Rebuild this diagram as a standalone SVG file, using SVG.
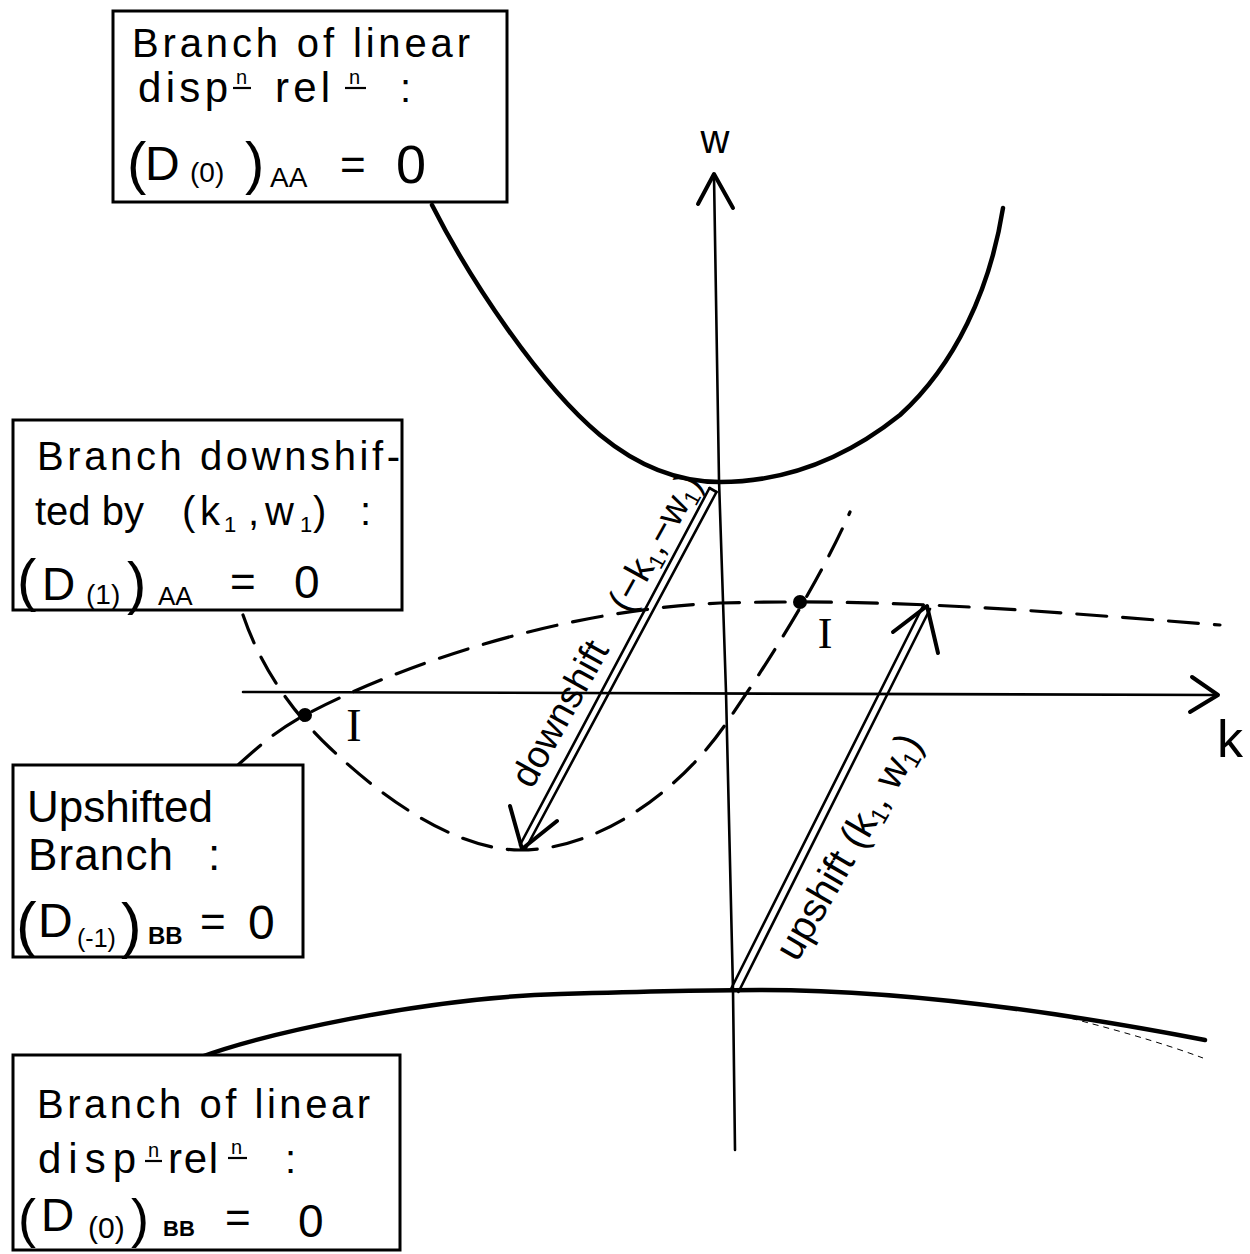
<svg xmlns="http://www.w3.org/2000/svg" width="1250" height="1254" viewBox="0 0 1250 1254">
<style>
.t{font-family:"Liberation Sans",Arial,sans-serif;fill:#000}
.box{fill:#fff;stroke:#000;stroke-width:3}
.solid{fill:none;stroke:#000;stroke-width:4.5;stroke-linecap:round}
.dash{fill:none;stroke:#000;stroke-width:3.2;stroke-dasharray:30 16;stroke-linecap:round}
.axis{fill:none;stroke:#000;stroke-width:2.6;stroke-linecap:round;stroke-linejoin:round}
.dbl{fill:none;stroke:#000;stroke-width:2.6;stroke-linecap:round}
.head{fill:none;stroke:#000;stroke-width:4;stroke-linecap:round;stroke-linejoin:round}
.ul{stroke:#000;stroke-width:2.2}
</style>
<rect width="1250" height="1254" fill="#fff"/>

<g id="connectors">
  <!-- axes -->
  <polyline class="axis" points="714,176 719,480 726,692 733,990 735,1150"/>
  <path class="head" d="M698,204 L714,174 L733,208"/>
  <line class="axis" x1="243" y1="692" x2="1217" y2="695"/>
  <path class="head" d="M1192,677 L1218,695 L1190,712"/>
  <!-- linear dispersion branches -->
  <path class="solid" d="M432,205 C470,280 540,385 600,435 C640,468 680,482 720,482 C790,482 850,455 900,415 C955,365 990,290 1003,208"/>
  <path class="solid" stroke-width="4" d="M198,1058 C260,1035 420,998 560,994 C660,991 700,990 760,990 C900,990 1060,1012 1205,1040"/>
  <path fill="none" stroke="#000" stroke-width="1" stroke-dasharray="6 5" d="M1050,1013 C1110,1028 1160,1042 1203,1058"/>
  <!-- shifted branches -->
  <path class="dash" d="M243,615 C260,665 290,710 330,748 C390,805 460,850 520,850 C600,850 680,790 725,725 C770,660 820,580 850,512"/>
  <path class="dash" d="M238,765 C260,745 280,728 305,715 C400,665 560,610 720,603 C900,598 1050,612 1220,625"/>
  <!-- intersection points -->
  <circle cx="305" cy="715" r="7"/>
  <circle cx="800" cy="602" r="7"/>
  <!-- downshift double arrow -->
  <line class="dbl" x1="709.5" y1="488" x2="520" y2="845"/>
  <line class="dbl" x1="716.5" y1="492" x2="526" y2="848"/>
  <line class="dbl" x1="709.5" y1="488" x2="716.5" y2="492"/>
  <path class="head" d="M510,806 L522,849 L557,821"/>
  <!-- upshift double arrow -->
  <line class="dbl" x1="731.5" y1="988" x2="923.5" y2="605"/>
  <line class="dbl" x1="738.5" y1="992" x2="930" y2="609"/>
  <path class="head" d="M893,632 L927,606 L938,653"/>
  <!-- labels -->
  <text class="t" x="715" y="153" font-size="40" text-anchor="middle">w</text>
  <text class="t" x="1230" y="757" font-size="52" text-anchor="middle">k</text>
  <text x="354" y="741" font-size="46" text-anchor="middle" style="font-family:'Liberation Serif',serif">I</text>
  <text x="825" y="648" font-size="44" text-anchor="middle" style="font-family:'Liberation Serif',serif">I</text>
  <text class="t" font-size="38" transform="translate(532,790) rotate(-61)">downshift<tspan dx="40">(−k</tspan><tspan font-size="22" dy="6">1</tspan><tspan dy="-6">,−w</tspan><tspan font-size="22" dy="6">1</tspan><tspan dy="-6">)</tspan></text>
  <text class="t" font-size="40" transform="translate(797,963) rotate(-60)">upshift (k<tspan font-size="24" dy="6">1</tspan><tspan dy="-6">, w</tspan><tspan font-size="24" dy="6">1</tspan><tspan dy="-6">)</tspan></text>
</g>

<g id="box-AA0">
  <rect class="box" x="113" y="11" width="394" height="191"/>
  <text class="t" x="132" y="57" font-size="40" textLength="338" lengthAdjust="spacing">Branch of linear</text>
  <text class="t" x="138" y="102" font-size="42" textLength="90" lengthAdjust="spacing">disp</text>
  <text class="t" x="236" y="84" font-size="20">n</text>
  <line class="ul" x1="233" y1="88" x2="251" y2="88"/>
  <text class="t" x="275" y="102" font-size="42" textLength="55" lengthAdjust="spacing">rel</text>
  <text class="t" x="349" y="84" font-size="20">n</text>
  <line class="ul" x1="345" y1="88" x2="366" y2="88"/>
  <text class="t" x="400" y="102" font-size="40">:</text>
  <text class="t" x="127" y="183" font-size="58">(</text>
  <text class="t" x="145" y="180" font-size="48">D</text>
  <text class="t" x="190" y="182" font-size="28">(0)</text>
  <text class="t" x="245" y="183" font-size="58">)</text>
  <text class="t" x="270" y="187" font-size="28">AA</text>
  <text class="t" x="340" y="180" font-size="44">=</text>
  <text class="t" x="396" y="183" font-size="54">0</text>
</g>

<g id="box-AA1">
  <rect class="box" x="13" y="420" width="389" height="190"/>
  <text class="t" x="37" y="470" font-size="40" textLength="363" lengthAdjust="spacing">Branch downshif-</text>
  <text class="t" x="35" y="525" font-size="40">ted by</text>
  <text class="t" x="182" y="525" font-size="40">(</text>
  <text class="t" x="200" y="525" font-size="40">k</text>
  <text class="t" x="224" y="532" font-size="22">1</text>
  <text class="t" x="248" y="525" font-size="40">,</text>
  <text class="t" x="265" y="525" font-size="40">w</text>
  <text class="t" x="300" y="532" font-size="22">1</text>
  <text class="t" x="313" y="525" font-size="40">)</text>
  <text class="t" x="360" y="525" font-size="40">:</text>
  <text class="t" x="17" y="600" font-size="58">(</text>
  <text class="t" x="42" y="600" font-size="46">D</text>
  <text class="t" x="86" y="604" font-size="28">(1)</text>
  <text class="t" x="127" y="603" font-size="58">)</text>
  <text class="t" x="158" y="605" font-size="26">AA</text>
  <text class="t" x="230" y="597" font-size="44">=</text>
  <text class="t" x="294" y="598" font-size="46">0</text>
</g>

<g id="box-BB-1">
  <rect class="box" x="13" y="765" width="290" height="192"/>
  <text class="t" x="27" y="822" font-size="44" textLength="186" lengthAdjust="spacing">Upshifted</text>
  <text class="t" x="28" y="870" font-size="44" textLength="145" lengthAdjust="spacing">Branch</text>
  <text class="t" x="208" y="870" font-size="44">:</text>
  <text class="t" x="16" y="945" font-size="62">(</text>
  <text class="t" x="38" y="937" font-size="48">D</text>
  <text class="t" x="77" y="947" font-size="25">(-1)</text>
  <text class="t" x="121" y="946" font-size="62">)</text>
  <text class="t" x="148" y="944" font-size="24" font-weight="bold">BB</text>
  <text class="t" x="200" y="937" font-size="44">=</text>
  <text class="t" x="248" y="939" font-size="48">0</text>
</g>

<g id="box-BB0">
  <rect class="box" x="13" y="1055" width="387" height="195"/>
  <text class="t" x="37" y="1118" font-size="40" textLength="333" lengthAdjust="spacing">Branch of linear</text>
  <text class="t" x="38" y="1173" font-size="42" textLength="98" lengthAdjust="spacing">disp</text>
  <text class="t" x="148" y="1157" font-size="20">n</text>
  <line class="ul" x1="145" y1="1161" x2="162" y2="1161"/>
  <text class="t" x="168" y="1173" font-size="42" textLength="50" lengthAdjust="spacing">rel</text>
  <text class="t" x="231" y="1154" font-size="20">n</text>
  <line class="ul" x1="228" y1="1158" x2="247" y2="1158"/>
  <text class="t" x="285" y="1173" font-size="40">:</text>
  <text class="t" x="18" y="1237" font-size="54">(</text>
  <text class="t" x="41" y="1231" font-size="46">D</text>
  <text class="t" x="88" y="1238" font-size="30">(0)</text>
  <text class="t" x="131" y="1237" font-size="54">)</text>
  <text class="t" x="163" y="1236" font-size="22" font-weight="bold">BB</text>
  <text class="t" x="225" y="1233" font-size="44">=</text>
  <text class="t" x="298" y="1237" font-size="46">0</text>
</g>
</svg>
